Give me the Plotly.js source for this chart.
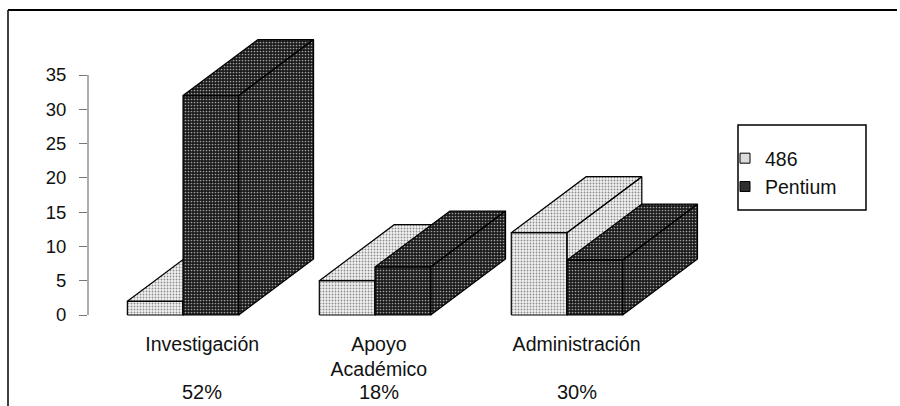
<!DOCTYPE html>
<html>
<head>
<meta charset="utf-8">
<script src="https://cdn.plot.ly/plotly-3.0.1.min.js"></script>
<style>
  html, body { margin: 0; padding: 0; background: #ffffff; }
  #chart { width: 900px; height: 406px; }
</style>
</head>
<body>
<div id="chart"></div>
<script>
// ---- data ----
const categories = ['Investigación', 'Apoyo<br>Académico', 'Administración'];
const shares = ['52%', '18%', '30%'];
const series486 = [2, 5, 12];
const seriesPentium = [32, 7, 8];
const yTicks = [0, 5, 10, 15, 20, 25, 30, 35];

// ---- geometry / style constants ----
const BAR_W = 0.29;      // bar width in category units
const DEPTH_X = 0.39;    // oblique depth along x (category units)
const DEPTH_Y = 8.17;    // oblique depth along y (value units)
const LABEL_SHIFT = [0.1, 1.02, 2.05];

const STYLE486 = {
  pattern: {shape: '.', bgcolor: '#f2f2f2', fgcolor: '#8c8c8c', size: 3, solidity: 0.3},
  legend: '#dcdcdc'
};
const STYLEP = {
  pattern: {shape: '.', bgcolor: '#1a1a1a', fgcolor: '#a0a0a0', size: 3, solidity: 0.25},
  legend: '#2e2e2e'
};

function boxFaces(x0, h) {
  const w = BAR_W, dx = DEPTH_X, dy = DEPTH_Y;
  const xs = [], ys = [];
  const push = (pts) => { pts.forEach(p => { xs.push(p[0]); ys.push(p[1]); }); xs.push(null); ys.push(null); };
  // front face
  push([[x0, 0], [x0 + w, 0], [x0 + w, h], [x0, h], [x0, 0]]);
  // top face
  push([[x0, h], [x0 + w, h], [x0 + w + dx, h + dy], [x0 + dx, h + dy], [x0, h]]);
  // right side face
  push([[x0 + w, 0], [x0 + w + dx, dy], [x0 + w + dx, h + dy], [x0 + w, h], [x0 + w, 0]]);
  return {x: xs, y: ys};
}

const traces = [];
categories.forEach((c, i) => {
  const b1 = boxFaces(i - BAR_W, series486[i]);
  traces.push({
    type: 'scatter', mode: 'lines', x: b1.x, y: b1.y, fill: 'toself',
    fillcolor: STYLE486.pattern.bgcolor, fillpattern: STYLE486.pattern,
    line: {color: '#000000', width: 1.2}, showlegend: false, hoverinfo: 'skip'
  });
  const b2 = boxFaces(i, seriesPentium[i]);
  traces.push({
    type: 'scatter', mode: 'lines', x: b2.x, y: b2.y, fill: 'toself',
    fillcolor: STYLEP.pattern.bgcolor, fillpattern: STYLEP.pattern,
    line: {color: '#000000', width: 1.2}, showlegend: false, hoverinfo: 'skip'
  });
});

// legend entries
traces.push({type: 'scatter', mode: 'markers', x: [null], y: [null], name: '486',
  marker: {symbol: 'square', size: 10, color: STYLE486.legend, line: {color: '#000', width: 1}}});
traces.push({type: 'scatter', mode: 'markers', x: [null], y: [null], name: 'Pentium',
  marker: {symbol: 'square', size: 10, color: STYLEP.legend, line: {color: '#000', width: 1}}});

// pixel helpers for paper coordinates (plot area: x 88..700, y 35..320)
const PL = 88, PW = 612, PT = 35, PH = 285;
const px = (x) => (x - PL) / PW;
const py = (y) => (PT + PH - y) / PH;

const shareAnnotations = shares.map((s, i) => ({
  x: LABEL_SHIFT[i], xref: 'x', y: py(392), yref: 'paper',
  xanchor: 'center', yanchor: 'middle', text: s, showarrow: false,
  font: {size: 20, color: '#111111'}
}));

const layout = {
  width: 900, height: 406,
  margin: {l: PL, r: 900 - PL - PW, t: PT, b: 406 - PT - PH},
  paper_bgcolor: '#ffffff', plot_bgcolor: 'rgba(0,0,0,0)',
  font: {family: 'Liberation Sans, Arial, Helvetica, sans-serif', color: '#111111'},
  showlegend: true,
  legend: {
    x: px(725), y: py(139), xanchor: 'left', yanchor: 'top',
    bgcolor: 'rgba(0,0,0,0)', borderwidth: 0,
    font: {size: 19.5, color: '#111111'}
  },
  xaxis: {
    range: [-0.495, 2.693], showgrid: false, zeroline: false, showline: false,
    tickmode: 'array', tickvals: LABEL_SHIFT, ticktext: categories,
    ticks: '', tickfont: {size: 19.5}, ticklabelstandoff: 10, fixedrange: true
  },
  yaxis: {
    range: [-0.729, 40.833], showgrid: false, zeroline: false, showline: false,
    tickmode: 'array', tickvals: yTicks, ticktext: yTicks.map(String),
    ticks: 'outside', ticklen: 8, tickcolor: '#777777', tickwidth: 1,
    tickfont: {size: 18.5}, ticklabelstandoff: 9, fixedrange: true
  },
  annotations: shareAnnotations,
  shapes: [
    // value axis line from 0 to 35
    {type: 'line', xref: 'paper', yref: 'y', x0: 0, x1: 0, y0: 0, y1: 35,
     line: {color: '#777777', width: 1.2}},
    // legend box
    {type: 'rect', xref: 'paper', yref: 'paper', x0: px(738), x1: px(866), y0: py(125), y1: py(210),
     line: {color: '#000000', width: 1.5}},
    // outer frame (top and left edges)
    {type: 'line', xref: 'paper', yref: 'paper', x0: px(8), x1: px(897), y0: py(10), y1: py(10),
     line: {color: '#000000', width: 2}},
    {type: 'line', xref: 'paper', yref: 'paper', x0: px(8), x1: px(8), y0: py(10), y1: py(406),
     line: {color: '#000000', width: 1.5}}
  ]
};

Plotly.newPlot('chart', traces, layout, {staticPlot: true, displayModeBar: false});
</script>
</body>
</html>
